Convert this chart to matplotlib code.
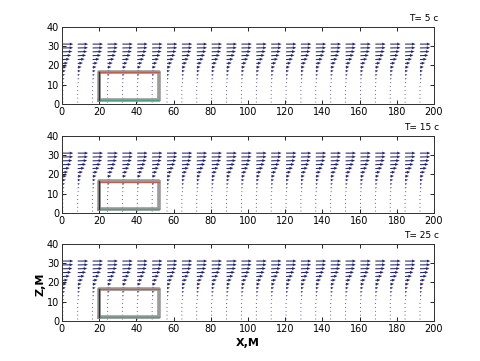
import matplotlib.pyplot as plt
import numpy as np

# arrow columns along X (m) and rows along Z (m)
x_cols = [0.5 + 8.0 * k for k in range(25)]
z_rows = [31, 29, 27, 25, 23, 21, 19, 17, 15, 13, 11, 9, 7, 5, 3, 1]
# horizontal and vertical velocity per row (drawn length in axis units)
u_prof = [5.6, 5.5, 5.1, 4.5, 3.7, 2.8, 2.1, 1.6, 1.2, 0.9, 0.7, 0.5, 0.45,
          0.4, 0.35, 0.3]
w_prof = [0.0, 0.1, 0.15, 0.2, 0.25, 0.25, 0.2, 0.2, 0.15, 0.1, 0.1, 0.05,
          0.0, 0.0, 0.0, 0.0]
titles = ["T= 5 c", "T= 15 c", "T= 25 c"]
box_x = [20, 52]
box_z = [2, 16.5]

X, Z = np.meshgrid(x_cols, z_rows)
U = np.repeat(np.array(u_prof)[:, None], len(x_cols), axis=1)
W = np.repeat(np.array(w_prof)[:, None], len(x_cols), axis=1)

fig = plt.figure(figsize=(4.8, 3.61), dpi=100)
bottoms = [0.712, 0.410, 0.111]
for i in range(3):
    ax = fig.add_axes([0.129, bottoms[i], 0.775, 0.214])
    ax.quiver(X, Z, U, W, angles="xy", scale_units="xy", scale=1,
              color="#24246e", width=0.0028, headwidth=3, headlength=3.5,
              headaxislength=3.2)
    # obstacle outline
    ax.plot([box_x[0], box_x[1], box_x[1], box_x[0], box_x[0]],
            [box_z[0], box_z[0], box_z[1], box_z[1], box_z[0]],
            color="#9a9a9a", lw=2.6, solid_joinstyle="round")
    ax.plot(box_x, [box_z[1] - 0.2] * 2, color="#c06050", lw=1.0)
    ax.plot(box_x, [box_z[0] + 0.2] * 2, color="#50a080", lw=1.0)
    ax.plot([box_x[0] + 0.2] * 2, box_z, color="#303030", lw=1.0)
    ax.set_xlim(0, 200)
    ax.set_ylim(0, 40)
    ax.set_xticks(np.arange(0, 201, 20))
    ax.set_yticks(np.arange(0, 41, 10))
    ax.tick_params(direction="in", top=True, right=True, length=3,
                   labelsize=7, pad=2, width=0.6)
    for s in ax.spines.values():
        s.set_linewidth(0.7)
        s.set_color("#303030")
    ax.text(1.013, 1.11, titles[i], transform=ax.transAxes, ha="right",
            va="center", fontsize=6.5)

fig.text(0.517, 0.05, "X,M", ha="center", va="center", fontsize=8,
         fontweight="bold")
fig.text(0.085, 0.213, "Z,M", ha="center", va="center", fontsize=8,
         fontweight="bold", rotation=90)
fig.savefig("out.png", dpi=100)
